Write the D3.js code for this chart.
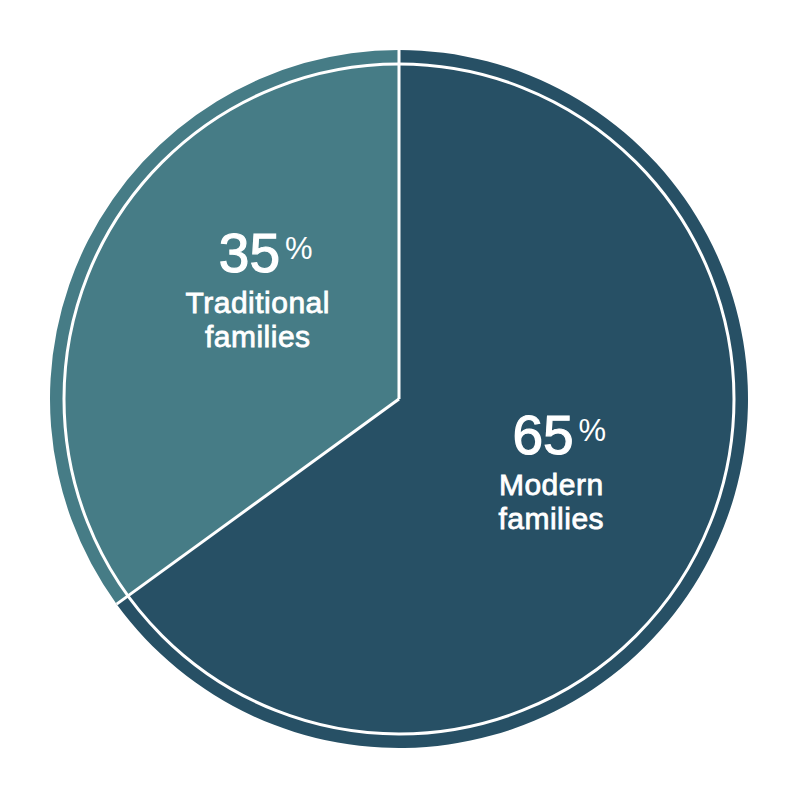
<!DOCTYPE html>
<html>
<head>
<meta charset="utf-8">
<script src="https://cdn.jsdelivr.net/npm/d3@7"></script>
<style>
  html, body { margin: 0; padding: 0; background: #fff; }
  svg { display: block; font-family: "Liberation Sans", Arial, Helvetica, sans-serif; }
</style>
</head>
<body>
<div id="chart"></div>
<script>
// Share of family types (percent)
const labels = ['Modern families', 'Traditional families']
const labelLines = [['Modern', 'families'], ['Traditional', 'families']]
const values = [65, 35]
const colors = ['#275065', '#467c86']

const width = 800
const height = 800
const cx = 399
const cy = 399
const radius = 349
const ringRadius = 335
const labelRadius = 172
// small nudges so the labels sit where the original placed them
const labelNudge = [[-1, 5], [12, -21]]

const svg = d3.select('#chart').append('svg')
  .attr('width', width)
  .attr('height', height)

const g = svg.append('g').attr('transform', `translate(${cx},${cy})`)

const data = labels.map((label, i) => ({ label, lines: labelLines[i], value: values[i], color: colors[i] }))

const pie = d3.pie().value(d => d.value).sort(null)
const arcs = pie(data)
const arc = d3.arc().innerRadius(0).outerRadius(radius)
const labelArc = d3.arc().innerRadius(labelRadius).outerRadius(labelRadius)

g.selectAll('path.slice').data(arcs).join('path')
  .attr('class', 'slice')
  .attr('d', arc)
  .attr('fill', d => d.data.color)

// thin white ring just inside the edge
g.append('circle')
  .attr('r', ringRadius)
  .attr('fill', 'none')
  .attr('stroke', '#fff')
  .attr('stroke-width', 3)

// white separators between slices, running out to the edge
g.selectAll('line.sep').data(arcs).join('line')
  .attr('class', 'sep')
  .attr('x1', 0).attr('y1', 0)
  .attr('x2', d => radius * Math.sin(d.startAngle))
  .attr('y2', d => -radius * Math.cos(d.startAngle))
  .attr('stroke', '#fff')
  .attr('stroke-width', 3)

const lbl = g.selectAll('g.label').data(arcs).join('g')
  .attr('class', 'label')
  .attr('transform', (d, i) => {
    const [x, y] = labelArc.centroid(d)
    return `translate(${x + labelNudge[i][0]},${y + labelNudge[i][1]})`
  })
  .attr('fill', '#fff')
  .attr('text-anchor', 'middle')

const pct = lbl.append('text')
  .attr('y', -28)
  .attr('x', 8)
pct.append('tspan')
  .style('font-size', '55px')
  .attr('stroke', '#fff')
  .attr('stroke-width', 1.2)
  .text(d => d.data.value)
pct.append('tspan')
  .attr('dx', 5)
  .attr('dy', -13)
  .style('font-size', '31px')
  .text('%')

lbl.each(function (d) {
  d3.select(this).selectAll('text.line').data(d.data.lines).join('text')
    .attr('class', 'line')
    .attr('y', (t, j) => 13 + j * 34)
    .style('font-size', '30px')
    .style('letter-spacing', '0.5px')
    .attr('stroke', '#fff')
    .attr('stroke-width', 0.8)
    .text(t => t)
})
</script>
</body>
</html>
